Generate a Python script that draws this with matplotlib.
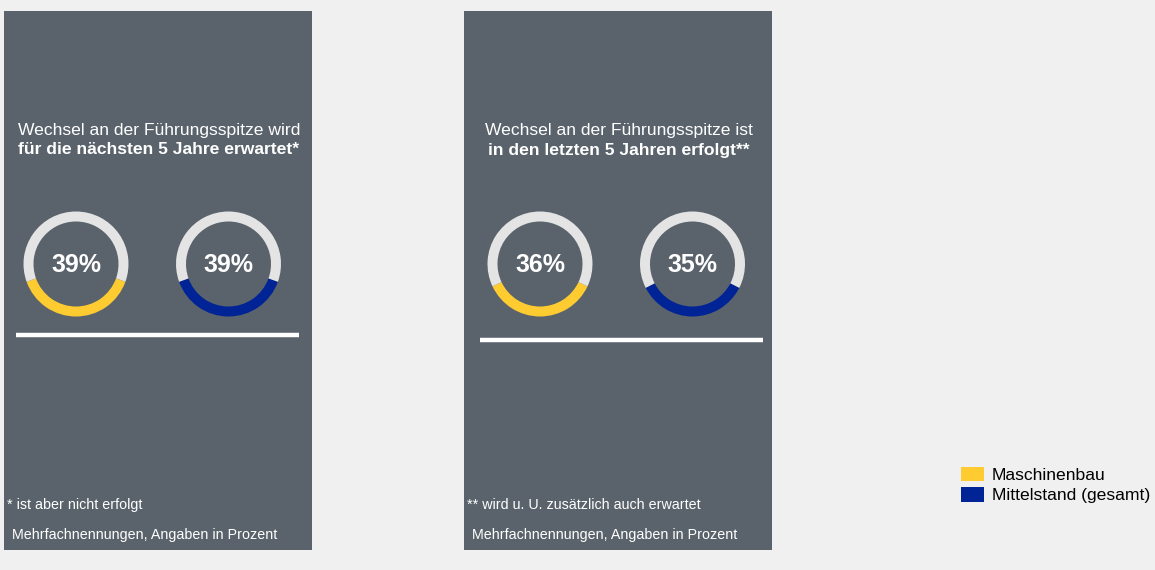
import matplotlib
matplotlib.use("Agg")
import matplotlib.pyplot as plt
from matplotlib.patches import Rectangle, Patch

plt.rcParams["font.family"] = ["Liberation Sans", "DejaVu Sans"]

# data
series_names = ["Maschinenbau", "Mittelstand (gesamt)"]
maschinenbau = [39, 36]
mittelstand = [39, 35]
title_line1 = ["Wechsel an der Führungsspitze wird", "Wechsel an der Führungsspitze ist"]
title_line2 = ["für die nächsten 5 Jahre erwartet*", "in den letzten 5 Jahren erfolgt**"]
footnotes = ["* ist aber nicht erfolgt", "** wird u. U. zusätzlich auch erwartet"]
note = "Mehrfachnennungen, Angaben in Prozent"

W, H = 1155, 570
BG = "#f0f0f0"
PANEL = "#5a636b"
YELLOW = "#fecb31"
BLUE = "#002395"
RING = "#e4e4e4"

fig = plt.figure(figsize=(W / 100, H / 100), dpi=100)
fig.patch.set_facecolor(BG)
ax = fig.add_axes([0, 0, 1, 1])
ax.set_xlim(0, W)
ax.set_ylim(H, 0)
ax.axis("off")

panel_x = [4, 464]
panel_w = 308
line_y = [335, 339.5]
line_x = [(16, 299), (480, 763)]
donut_y = 264
donut_dx = [72, 76]
donut_gap = 152.5
R = 52.5


def donut(cx, cy, pct, colour):
    a = fig.add_axes([(cx - R) / W, 1 - (cy + R) / H, 2 * R / W, 2 * R / H])
    a.pie([pct, 100 - pct], colors=[colour, RING], radius=1,
          startangle=270 - pct * 1.8, counterclock=True,
          wedgeprops=dict(width=10 / R, edgecolor="none"))
    a.set_xlim(-1, 1)
    a.set_ylim(-1, 1)
    a.set_aspect("equal")
    a.axis("off")
    ax.text(cx, cy + 1, f"{pct}%", ha="center", va="center", fontsize=18,
            fontweight="bold", color="white")


for i in range(2):
    x0 = panel_x[i]
    ax.add_patch(Rectangle((x0, 11), panel_w, 539, facecolor=PANEL, edgecolor="none"))
    cx = x0 + panel_w / 2 + 1
    ax.text(cx, 135.5, title_line1[i], ha="center", va="baseline",
            fontsize=12.6, color="white")
    ax.text(cx, 154.5, title_line2[i], ha="center", va="baseline",
            fontsize=12.6, fontweight="bold", color="white")
    c1 = x0 + donut_dx[i]
    donut(c1, donut_y, maschinenbau[i], YELLOW)
    donut(c1 + donut_gap, donut_y, mittelstand[i], BLUE)
    ax.plot(line_x[i], [line_y[i]] * 2, color="white", linewidth=3.2,
            solid_capstyle="butt")
    ax.text(x0 + 3, 509, footnotes[i], ha="left", va="baseline",
            fontsize=10.3, color="white")
    ax.text(x0 + 8.5, 539.5, note, ha="left", va="baseline",
            fontsize=10.3, color="white")

handles = [Patch(facecolor=YELLOW, edgecolor="none"),
           Patch(facecolor=BLUE, edgecolor="none")]
fig.legend(handles, series_names, loc="upper left",
           bbox_to_anchor=(961 / W, 1 - 466.5 / H), frameon=False, fontsize=12.6,
           handlelength=1.31, handleheight=0.92, handletextpad=0.46,
           labelspacing=0.22, borderpad=0, borderaxespad=0)

fig.savefig("out.png", dpi=100, facecolor=fig.get_facecolor())
